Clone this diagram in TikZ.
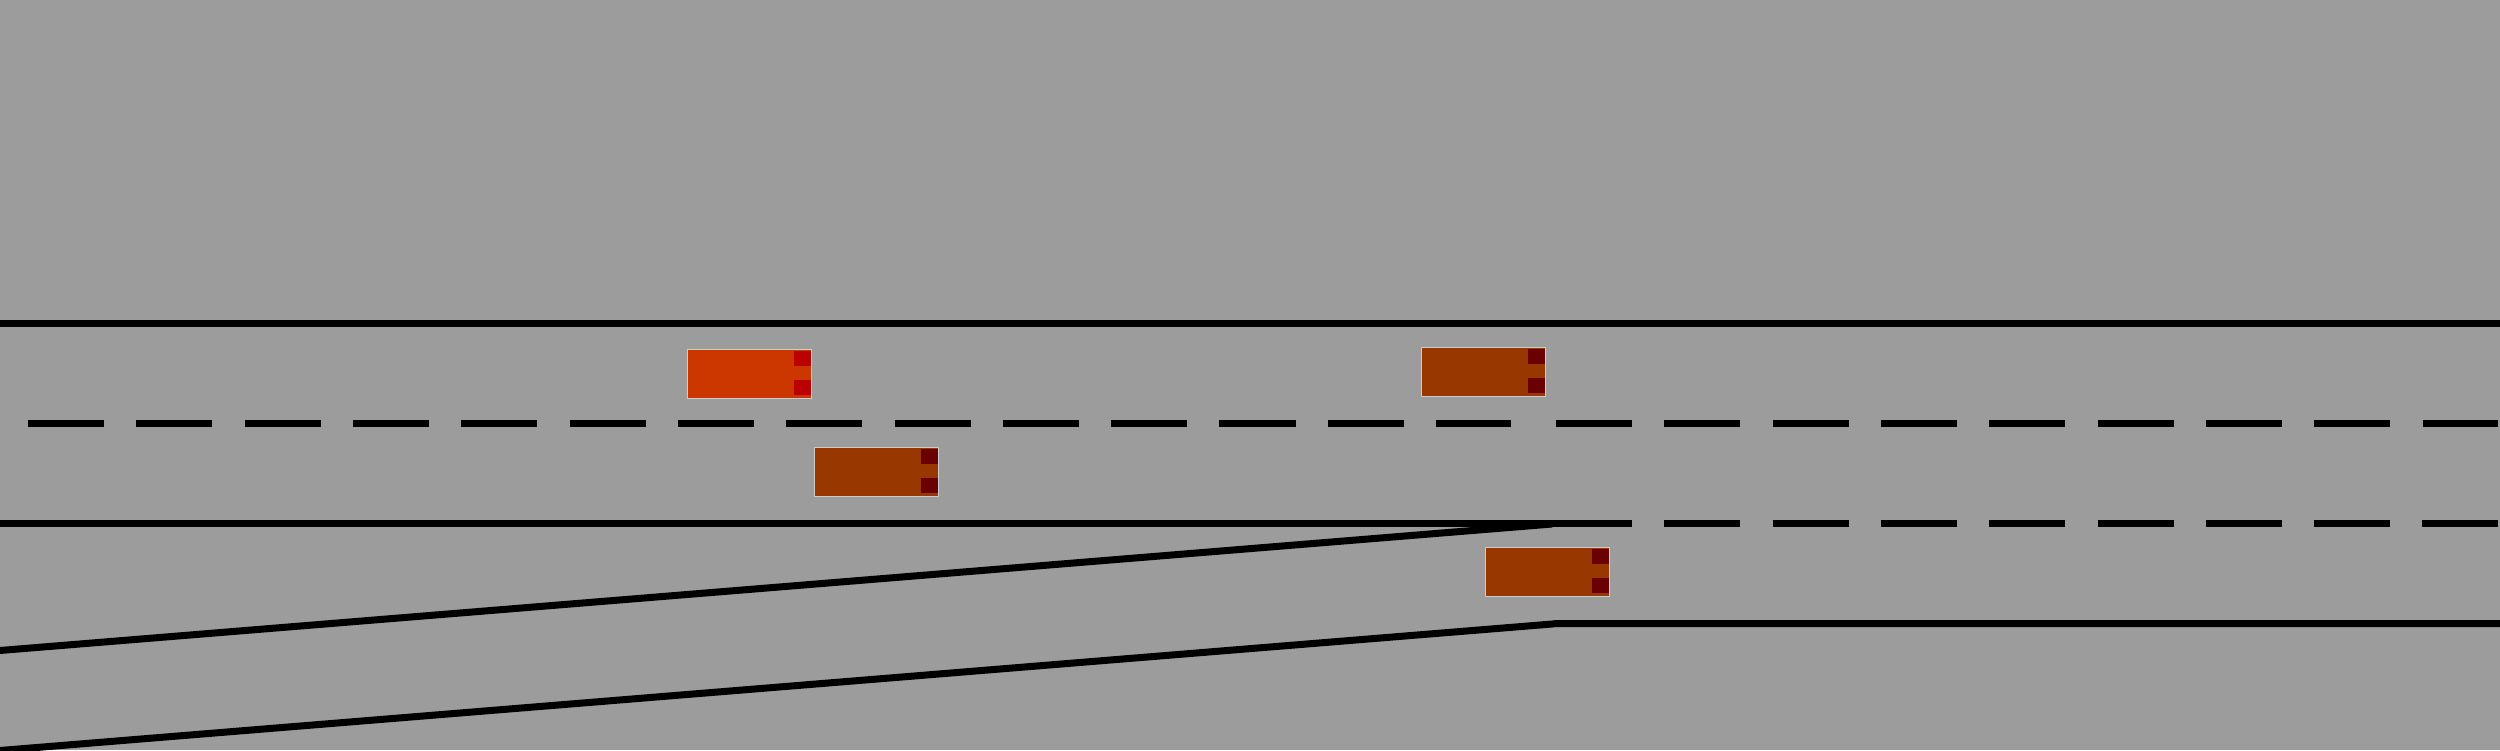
\documentclass[tikz,border=0pt]{standalone}
\definecolor{roadgrey}{RGB}{156,156,156}
\definecolor{carrim}{RGB}{204,204,204}
\definecolor{egocar}{RGB}{204,55,0}
\definecolor{egolamp}{RGB}{187,0,0}
\definecolor{othercar}{RGB}{153,55,0}
\definecolor{otherlamp}{RGB}{107,0,0}
\tikzset{
	laneline/.style={line width=0.7mm,black},
	lanedash/.style={laneline,dash pattern=on 7.6mm off 3.225mm},
	carbody/.style={line width=0.1mm,draw=carrim},
}
\begin{document}
\begin{tikzpicture}[x=0.01cm,y=-0.01cm]
	\fill[roadgrey,use as bounding box] (0,0) rectangle (2500,750);
	\coordinate (TL) at (0,323.5); \coordinate (TR) at (2500,323.5);
	\coordinate (ML) at (0,523.5); \coordinate (MR) at (1632,523.5);
	\coordinate (BE) at (1552,624); \coordinate (BF) at (1556,623.5); \coordinate (BR) at (2500,623.5);
	\coordinate (RU) at (-20,652.1); \coordinate (RM) at (1552,524);
	\coordinate (RL) at (-20,752.1);
	\coordinate (A1) at (28,423.5); \coordinate (A2) at (1511,423.5);
	\coordinate (B1) at (1556,423.5); \coordinate (B2) at (2498,423.5);
	\coordinate (C1) at (1664.25,523.5); \coordinate (C2) at (2498,523.5);
	\draw[laneline] (TL)--(TR);
	\draw[laneline] (ML)--(MR);
	\draw[laneline] (RU)--(RM);
	\draw[laneline] (RL)--(BE)--(BF)--(BR);
	\draw[lanedash] (A1)--(A2);
	\draw[lanedash] (B1)--(B2);
	\draw[lanedash] (C1)--(C2);
	\foreach \x/\y/\body/\lamp in {687/349/egocar/egolamp,814/447/othercar/otherlamp,1421/347/othercar/otherlamp,1485/547/othercar/otherlamp} {
		\draw[carbody,fill=\body] (\x+0.5,\y+0.5) rectangle (\x+124.5,\y+49.5);
		\fill[\lamp] (\x+107,\y+2) rectangle (\x+124,\y+17);
		\fill[\lamp] (\x+107,\y+31) rectangle (\x+124,\y+46);
	}
\end{tikzpicture}
\end{document}
